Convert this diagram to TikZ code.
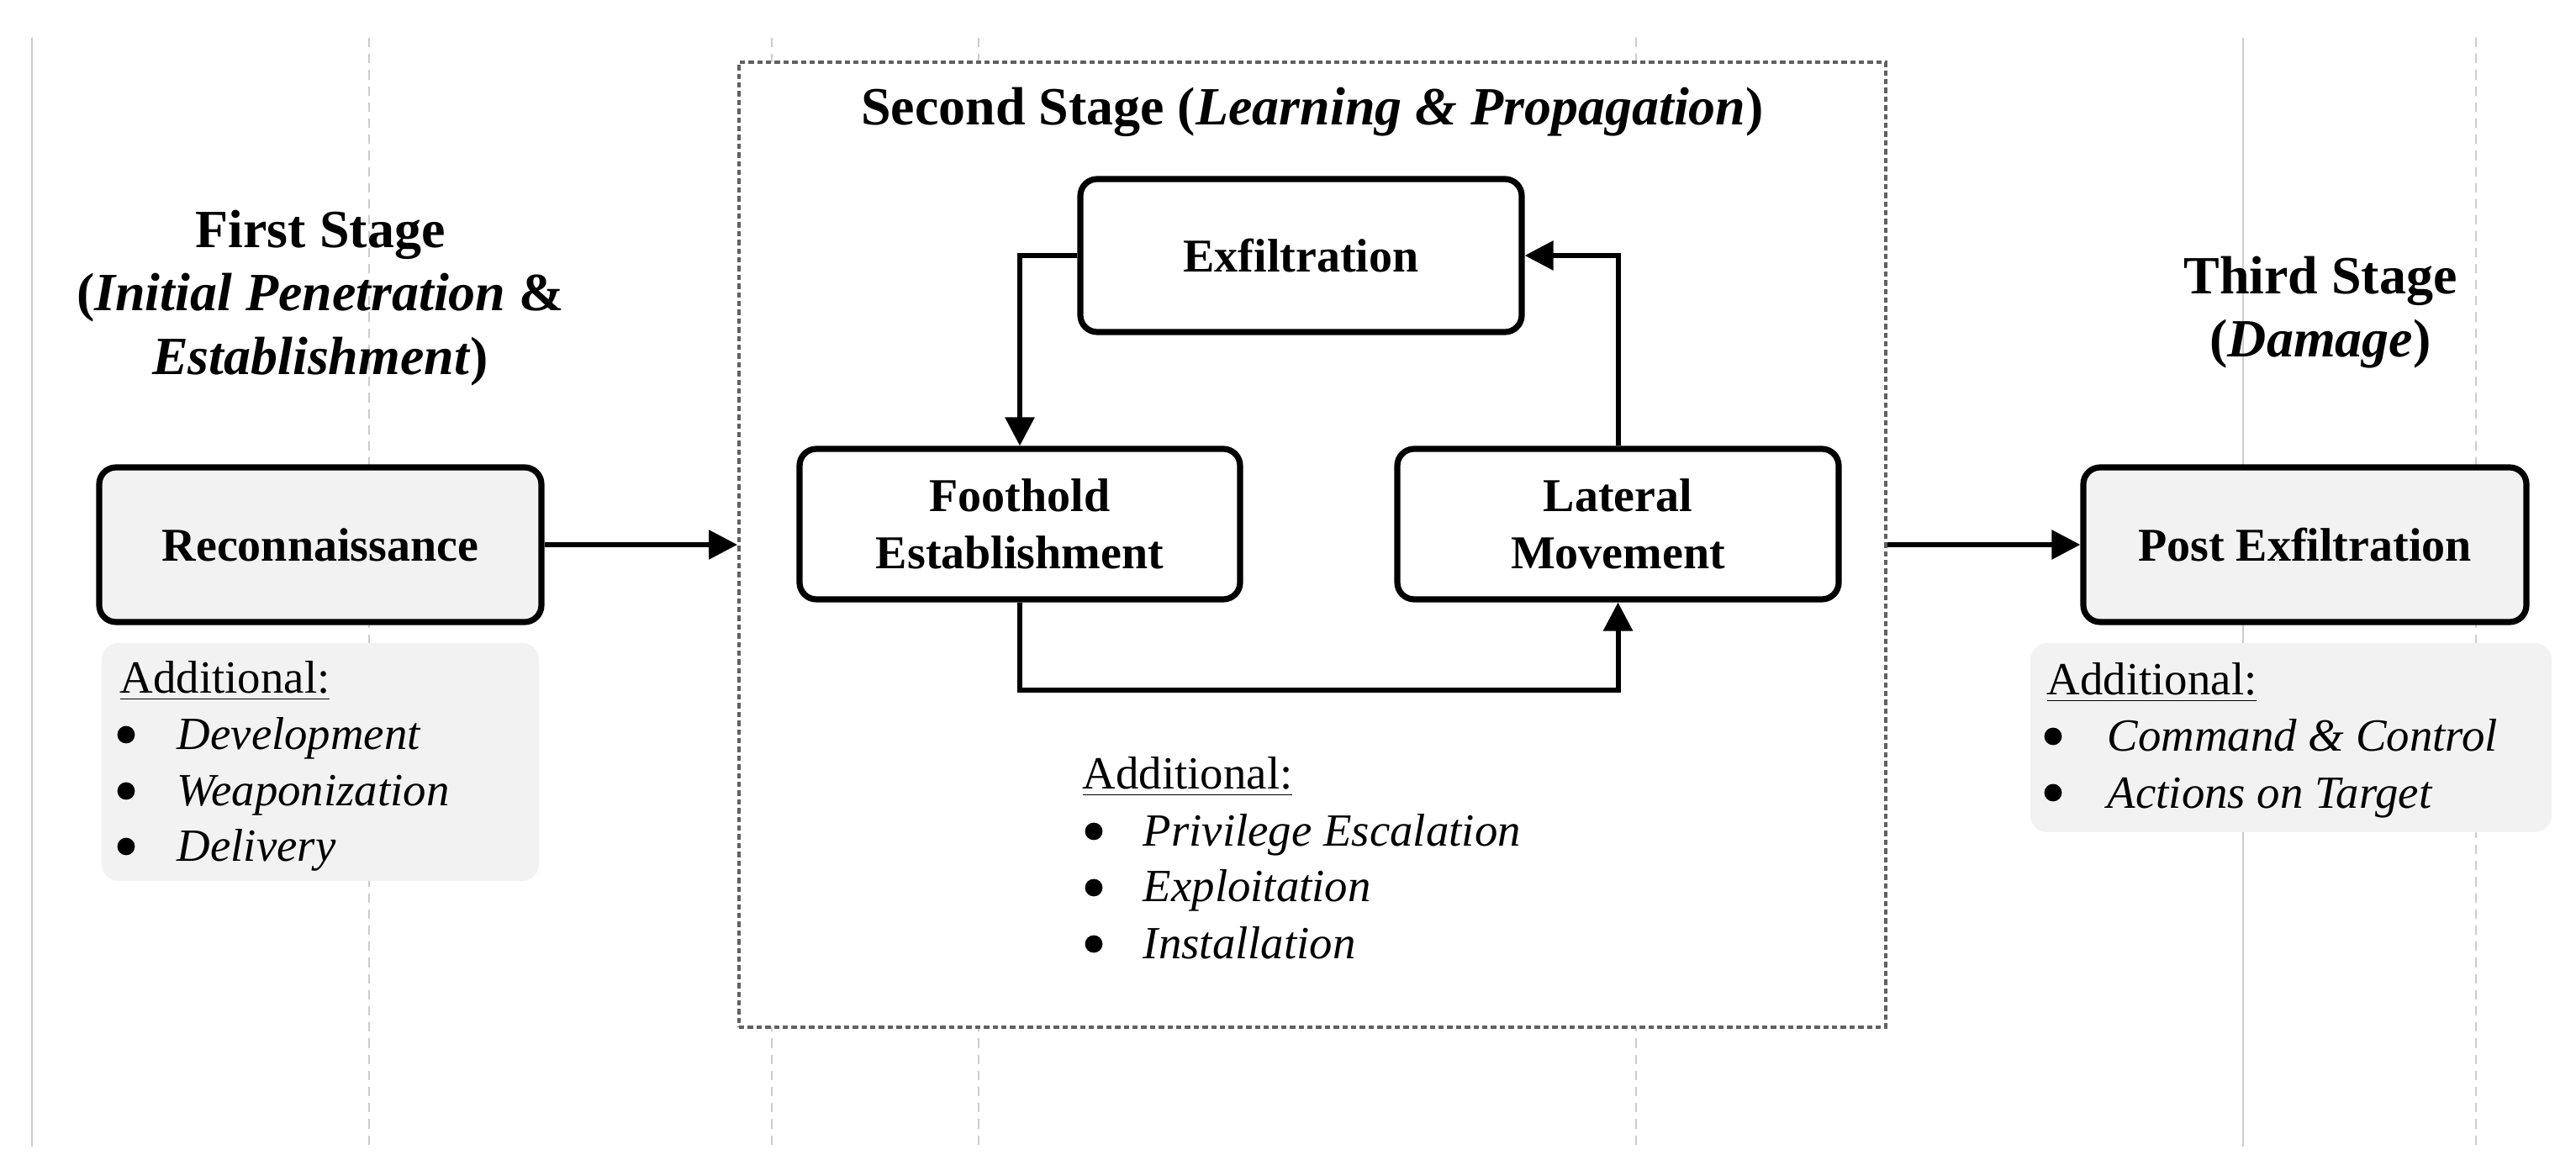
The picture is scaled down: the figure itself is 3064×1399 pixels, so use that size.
\documentclass[tikz,border=0pt]{standalone}
\usepackage{fontspec}
\setmainfont{Liberation Serif}
\usetikzlibrary{arrows.meta}
\definecolor{boxgray}{HTML}{F2F2F2}
\definecolor{gridgray}{HTML}{CCCCCC}
\definecolor{framegray}{HTML}{606060}
\begin{document}
\begin{tikzpicture}[x=0.25pt,y=-0.25pt,
  stagebox/.style={draw=black, line width=1.8pt, rounded corners=5pt, fill=white,
    font=\fontsize{14}{17}\selectfont\bfseries, align=center, inner sep=0pt},
  addbox/.style={fill=boxgray, rounded corners=5pt, inner sep=0pt},
  conn/.style={line width=1.5pt, -{Triangle[length=8.5pt,width=8.5pt]}},
  heading/.style={font=\fontsize{16}{19}\selectfont\bfseries, inner sep=0pt, anchor=base},
  addtxt/.style={font=\fontsize{13.7}{16}\selectfont, inner sep=0pt, anchor=base west},
  bul/.style={circle, fill=black, inner sep=0pt, minimum size=5.2pt},
  gridsolid/.style={draw=gridgray, line width=0.7pt},
  griddash/.style={draw=gridgray, line width=0.7pt, dash pattern=on 2.8pt off 2pt},
]
\fill[white] (0,0) rectangle (3064,1399);
\useasboundingbox (0,0) rectangle (3064,1399);

% background guide lines
\foreach \gx in {38,2668} \draw[gridsolid] (\gx,45) -- (\gx,1364);
\foreach \gx in {439,918,1164,1946,2945} \draw[griddash] (\gx,45) -- (\gx,1364);

% second stage frame
\node[draw=framegray, line width=1pt, dash pattern=on 1.6pt off 1pt, fill=white,
      minimum width=341pt, minimum height=287pt, inner sep=0pt] (stage2) at (1561,648) {};

% headings
\node[heading] (h1a) at (381,295) {First Stage};
\node[heading] (h1b) at (381,370) {(\textit{Initial Penetration} \&};
\node[heading] (h1c) at (381,446) {\textit{Establishment})};
\node[heading] (h2) at (1561,149) {Second Stage (\textit{Learning \& Propagation})};
\node[heading] (h3a) at (2760,350) {Third Stage};
\node[heading] (h3b) at (2760,425) {(\textit{Damage})};

% main boxes
\node[stagebox, fill=boxgray, minimum width=131.5pt, minimum height=46pt] (recon) at (381,648) {Reconnaissance};
\node[stagebox, fill=boxgray, minimum width=131.75pt, minimum height=46pt] (post) at (2741.5,648) {Post Exfiltration};
\node[stagebox, minimum width=131.25pt, minimum height=45.5pt] (exfil) at (1547.5,304) {Exfiltration};
\node[stagebox, minimum width=131pt, minimum height=44.75pt] (foot) at (1213,623.5) {Foothold\\Establishment};
\node[stagebox, minimum width=131.25pt, minimum height=44.75pt] (lat) at (1924.5,623.5) {Lateral\\Movement};

% connectors
\draw[conn] (recon.east) -- (stage2.west);
\draw[conn] (stage2.east) -- (post.west);
\draw[conn] (exfil.west) -| (foot.north);
\draw[conn] (lat.north) |- (exfil.east);
\coordinate (loopc) at (1213,821);
\draw[conn] (foot.south) -- (loopc) -| (lat.south);

% additional box 1
\node[addbox, minimum width=130pt, minimum height=70.75pt] (add1) at (381,906.5) {};
\node[addtxt] (a1t) at (142,825) {\underline{Additional:}};
\node[bul] (a1b1) at (150,874) {};
\node[addtxt] (a1i1) at (210,892) {\textit{Development}};
\node[bul] (a1b2) at (150,941) {};
\node[addtxt] (a1i2) at (210,959) {\textit{Weaponization}};
\node[bul] (a1b3) at (150,1007) {};
\node[addtxt] (a1i3) at (210,1025) {\textit{Delivery}};

% additional 2 (no box)
\node[addtxt] (a2t) at (1287,939) {\underline{Additional:}};
\node[bul] (a2b1) at (1301,989) {};
\node[addtxt] (a2i1) at (1359,1006) {\textit{Privilege Escalation}};
\node[bul] (a2b2) at (1301,1056) {};
\node[addtxt] (a2i2) at (1359,1073) {\textit{Exploitation}};
\node[bul] (a2b3) at (1301,1123) {};
\node[addtxt] (a2i3) at (1359,1140) {\textit{Installation}};

% additional box 3
\node[addbox, minimum width=155pt, minimum height=56.25pt] (add3) at (2725,877.5) {};
\node[addtxt] (a3t) at (2434,827) {\underline{Additional:}};
\node[bul] (a3b1) at (2442,876) {};
\node[addtxt] (a3i1) at (2506,894) {\textit{Command \& Control}};
\node[bul] (a3b2) at (2442,943) {};
\node[addtxt] (a3i2) at (2506,961) {\textit{Actions on Target}};
\end{tikzpicture}
\end{document}
